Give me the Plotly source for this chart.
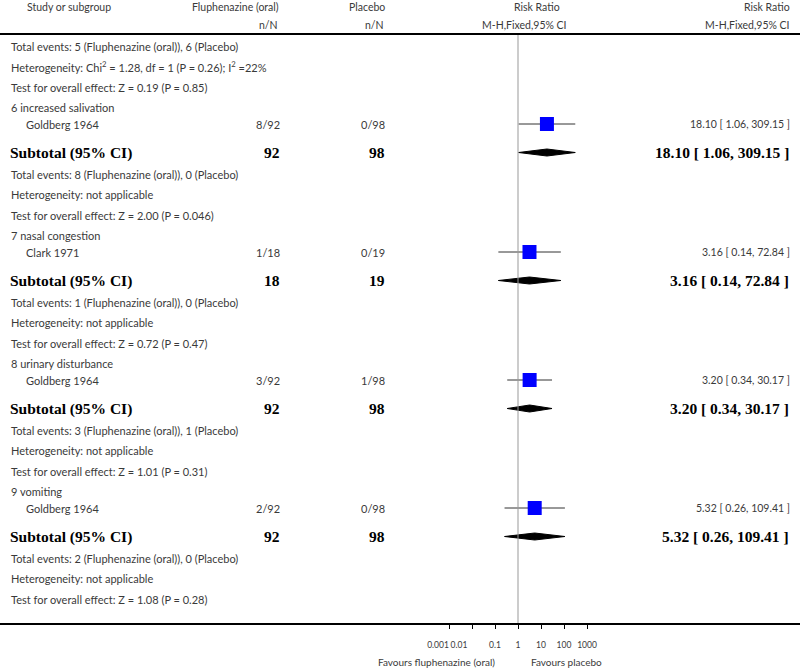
import plotly.graph_objects as go

# ---------------- data ----------------
carry_notes = [
    "Total events: 5 (Fluphenazine (oral)), 6 (Placebo)",
    "Heterogeneity: Chi<sup>2</sup> = 1.28, df = 1 (P = 0.26); I<sup>2</sup> =22%",
    "Test for overall effect: Z = 0.19 (P = 0.85)",
]
subgroups = ["6 increased salivation", "7 nasal congestion", "8 urinary disturbance", "9 vomiting"]
studies = ["Goldberg 1964", "Clark 1971", "Goldberg 1964", "Goldberg 1964"]
flu_events = [8, 1, 3, 2]
flu_total = [92, 18, 92, 92]
pla_events = [0, 0, 1, 0]
pla_total = [98, 19, 98, 98]
rr = [18.10, 3.16, 3.20, 5.32]
rr_lo = [1.06, 0.14, 0.34, 0.26]
rr_hi = [309.15, 72.84, 30.17, 109.41]
z_vals = ["2.00", "0.72", "1.01", "1.08"]
p_vals = ["0.046", "0.47", "0.31", "0.28"]
heterogeneity = ["not applicable"] * 4
tick_vals = [0.001, 0.01, 0.1, 1, 10, 100, 1000]
tick_text = ["0.001", "0.01", "0.1", "1", "10", "100", "1000"]
favours_left = "Favours fluphenazine (oral)"
favours_right = "Favours placebo"

# ---------------- layout helpers ----------------
W, H = 800, 670
FONT = "Lato"
SERIF = "Liberation Serif"
TXT = "#3a3a3a"
NOTE_SIZE = 11
BOLD_SIZE = 15.5

gap = {"note": 20.5, "study": 16.5, "subtotal": 28.5, "note_after_sub": 21.5}

rows = []
y = 46.0
for t in carry_notes:
    rows.append(("note", t, y)); y += gap["note"]
for i in range(len(subgroups)):
    y_label = y
    rows.append(("label", subgroups[i], y_label))
    y_study = y_label + gap["study"]
    rows.append(("study", i, y_study))
    y_sub = y_study + gap["subtotal"]
    rows.append(("subtotal", i, y_sub))
    notes = [
        f"Total events: {flu_events[i]} (Fluphenazine (oral)), {pla_events[i]} (Placebo)",
        f"Heterogeneity: {heterogeneity[i]}",
        f"Test for overall effect: Z = {z_vals[i]} (P = {p_vals[i]})",
    ]
    yy = y_sub + gap["note_after_sub"]
    for t in notes:
        rows.append(("note", t, yy)); yy += gap["note"]
    y = yy

AXIS_Y = 624
HEAD_LINE_Y = 34

fig = go.Figure()
ann = []

def add_text(x_px, y_px, text, anchor="left", size=NOTE_SIZE, bold_serif=False, color=TXT):
    ann.append(dict(
        x=x_px / W, xref="paper", y=y_px, yref="y", text=text, showarrow=False,
        xanchor=anchor, yanchor="middle",
        font=dict(family=SERIF if bold_serif else FONT, size=size,
                  color="black" if bold_serif else color),
    ))

# header
add_text(25, 7, "Study or subgroup", size=10.5)
add_text(281, 7, "Fluphenazine (oral)", anchor="right", size=10.5)
add_text(387, 7, "Placebo", anchor="right", size=10.5)
add_text(537, 7, "Risk Ratio", anchor="center", size=10.5)
add_text(792, 7, "Risk Ratio", anchor="right", size=10.5)
add_text(280, 25, "n/N", anchor="right", size=10.5)
add_text(386, 25, "n/N", anchor="right", size=10.5)
add_text(524, 25, "M-H,Fixed,95% CI", anchor="center", size=10.5)
add_text(792, 25, "M-H,Fixed,95% CI", anchor="right", size=10.5)

def fmt(v):
    return f"{v:.2f}"

for kind, val, yy in rows:
    if kind in ("note", "label"):
        add_text(9, yy, val)
    elif kind == "study":
        i = val
        add_text(24, yy, studies[i])
        add_text(282, yy, f"{flu_events[i]}/{flu_total[i]}", anchor="right")
        add_text(387, yy, f"{pla_events[i]}/{pla_total[i]}", anchor="right")
        add_text(792, yy, f"{fmt(rr[i])} [ {fmt(rr_lo[i])}, {fmt(rr_hi[i])} ]", anchor="right",
                 size=10.5)
        fig.add_trace(go.Scatter(x=[rr_lo[i], rr_hi[i]], y=[yy, yy], mode="lines",
                                 line=dict(color="#333333", width=1), hoverinfo="skip",
                                 showlegend=False))
        fig.add_trace(go.Scatter(x=[rr[i]], y=[yy], mode="markers",
                                 marker=dict(symbol="square", size=14, color="#0000ff",
                                             line=dict(width=0)), hoverinfo="skip",
                                 showlegend=False))
    elif kind == "subtotal":
        i = val
        add_text(8, yy, "<b>Subtotal (95% CI)</b>", size=BOLD_SIZE, bold_serif=True)
        add_text(282, yy, f"<b>{flu_total[i]}</b>", anchor="right", size=BOLD_SIZE, bold_serif=True)
        add_text(387, yy, f"<b>{pla_total[i]}</b>", anchor="right", size=BOLD_SIZE, bold_serif=True)
        add_text(791, yy, f"<b>{fmt(rr[i])} [ {fmt(rr_lo[i])}, {fmt(rr_hi[i])} ]</b>",
                 anchor="right", size=BOLD_SIZE, bold_serif=True)
        h = 3.5
        fig.add_trace(go.Scatter(x=[rr_lo[i], rr[i], rr_hi[i], rr[i], rr_lo[i]],
                                 y=[yy, yy - h, yy, yy + h, yy], mode="lines", fill="toself",
                                 fillcolor="black", line=dict(color="black", width=1),
                                 hoverinfo="skip", showlegend=False))

# line of no effect
fig.add_trace(go.Scatter(x=[1, 1], y=[HEAD_LINE_Y, AXIS_Y], mode="lines",
                         line=dict(color="#999999", width=1), hoverinfo="skip", showlegend=False))

# favours labels
add_text(497, 662, favours_left, anchor="right", size=10)
add_text(529, 662, favours_right, anchor="left", size=10)

shapes = [
    dict(type="line", xref="paper", x0=0, x1=1, yref="y", y0=HEAD_LINE_Y, y1=HEAD_LINE_Y,
         line=dict(color="black", width=2)),
    dict(type="line", xref="paper", x0=0, x1=1, yref="y", y0=AXIS_Y, y1=AXIS_Y,
         line=dict(color="black", width=2)),
]

# log axis: value 1 at x=518 px, 23 px per decade, domain from 400 px to 800 px
dom0, dom1 = 400 / W, 1.0
px_per_dec = 23.0
r0 = -(518 - 400) / px_per_dec
r1 = r0 + (800 - 400) / px_per_dec

def axis_cfg(vals, texts, shift=0, **extra):
    d = dict(type="log", domain=[dom0, dom1], range=[r0, r1], anchor="free",
             position=(H - AXIS_Y) / H, showgrid=False, zeroline=False, showline=False,
             ticks="outside", ticklen=4, tickwidth=1, tickcolor="black",
             tickvals=vals, ticktext=texts, tickangle=0, ticklabelshift=shift,
             ticklabelstandoff=9,
             tickfont=dict(family=FONT, size=8.5, color=TXT))
    d.update(extra)
    return d

# the two crowded small ticks get their labels nudged left, as in the reference
fig.add_trace(go.Scatter(x=[tick_vals[0]], y=[AXIS_Y], xaxis="x2", mode="markers",
                         marker=dict(opacity=0), hoverinfo="skip", showlegend=False))
fig.add_trace(go.Scatter(x=[tick_vals[1]], y=[AXIS_Y], xaxis="x3", mode="markers",
                         marker=dict(opacity=0), hoverinfo="skip", showlegend=False))

fig.update_layout(
    width=W, height=H, autosize=False,
    margin=dict(l=0, r=0, t=0, b=0),
    paper_bgcolor="white", plot_bgcolor="white",
    annotations=ann, shapes=shapes, showlegend=False,
    xaxis=axis_cfg(tick_vals[2:], tick_text[2:]),
    xaxis2=axis_cfg(tick_vals[:1], tick_text[:1], shift=-11, overlaying="x", matches="x"),
    xaxis3=axis_cfg(tick_vals[1:2], tick_text[1:2], shift=-13, overlaying="x", matches="x"),
    yaxis=dict(range=[H, 0], domain=[0, 1], visible=False, showgrid=False, zeroline=False),
)

fig.write_html("out.html", config={"displayModeBar": False},
               post_script="document.body.style.margin='0';document.body.style.overflow='hidden';")
